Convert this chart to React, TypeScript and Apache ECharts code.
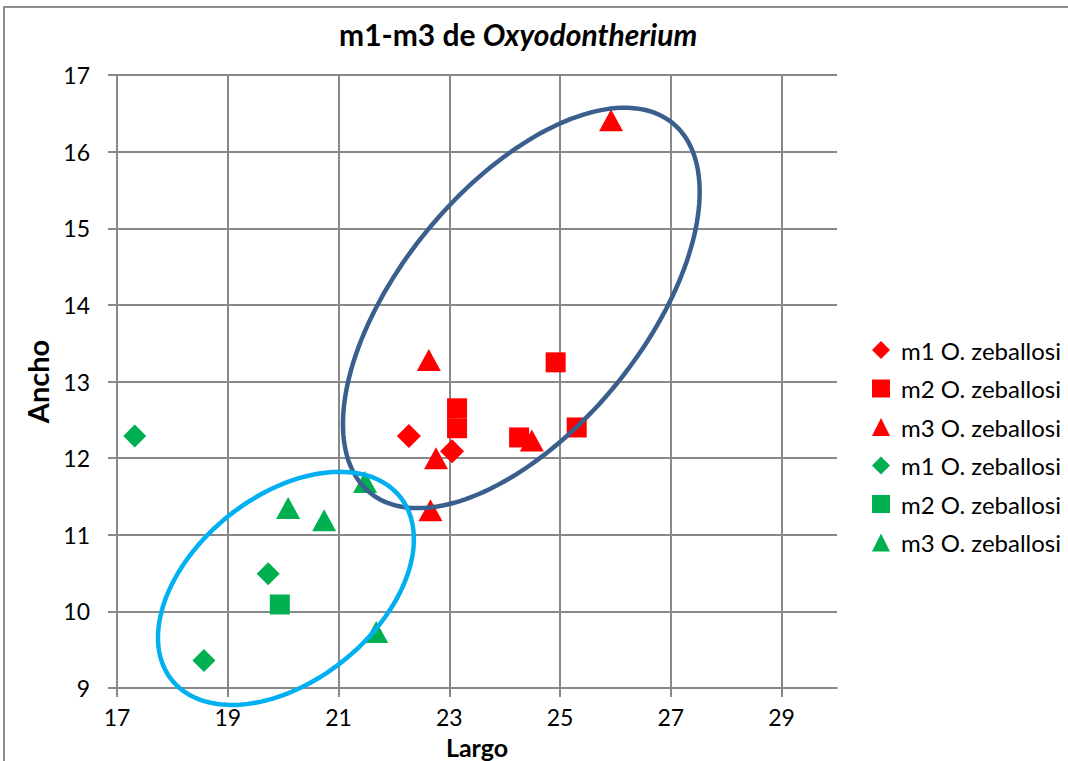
import React, { useEffect, useRef } from 'react';
import * as echarts from 'echarts';

// ---- data (Largo, Ancho) ----
const redM1: number[][] = [[22.27, 12.29], [23.05, 12.09]];
const redM2: number[][] = [[24.92, 13.25], [23.14, 12.65], [23.14, 12.39], [24.26, 12.27], [25.3, 12.4]];
const redM3: number[][] = [[25.92, 16.41], [22.63, 13.28], [22.76, 12.0], [22.66, 11.32], [24.49, 12.23]];
const greenM1: number[][] = [[17.32, 12.29], [19.73, 10.49], [18.57, 9.36]];
const greenM2: number[][] = [[19.94, 10.09]];
const greenM3: number[][] = [[20.09, 11.35], [20.74, 11.19], [21.48, 11.69], [21.68, 9.73]];

const legendLabels = ['m1 O. zeballosi', 'm2 O. zeballosi', 'm3 O. zeballosi'];

// ---- annotation ellipses in data units: centre, semi-axis vector A, semi-axis vector B ----
const darkEllipseCenter = [24.3, 13.96];
const darkEllipseA = [2.735, 2.41];
const darkEllipseB = [1.7, -1.009];
const lightEllipseCenter = [20.05, 10.3];
const lightEllipseA = [2.061, 1.195];
const lightEllipseB = [1.043, -0.941];

const xMin = 17, xMax = 30, xStep = 2;
const yMin = 9, yMax = 17, yStep = 1;

const FONT = 'Lato, "Open Sans", sans-serif';
const RED = '#FF0000';
const GREEN = '#00B050';
const GRID = '#898989';

function ellipseSeries(name: string, c: number[], a: number[], b: number[], color: string) {
  return {
    name,
    type: 'custom',
    silent: true,
    clip: false,
    z: 10,
    data: [[c[0], c[1]]],
    renderItem: (_p: any, api: any) => {
      const pts: number[][] = [];
      const n = 180;
      for (let i = 0; i < n; i++) {
        const t = (i / n) * Math.PI * 2;
        pts.push(api.coord([
          c[0] + a[0] * Math.cos(t) + b[0] * Math.sin(t),
          c[1] + a[1] * Math.cos(t) + b[1] * Math.sin(t),
        ]));
      }
      return {
        type: 'polygon',
        shape: { points: pts },
        style: { fill: 'none', stroke: color, lineWidth: 4.5 },
      };
    },
  };
}

export default function App() {
  const ref = useRef<HTMLDivElement>(null);
  useEffect(() => {
    if (!ref.current) return;
    const chart = echarts.init(ref.current, undefined, { renderer: 'svg' });
    const sc = (name: string, data: number[][], symbol: string, size: any, color: string) => ({
      name,
      type: 'scatter',
      data,
      symbol,
      symbolSize: size,
      itemStyle: { color, opacity: 1 },
      z: 3,
    });
    const names = [
      legendLabels[0] + '|r', legendLabels[1] + '|r', legendLabels[2] + '|r',
      legendLabels[0] + '|g', legendLabels[1] + '|g', legendLabels[2] + '|g',
    ];
    chart.setOption({
      animation: false,
      backgroundColor: '#fff',
      textStyle: { fontFamily: FONT },
      title: {
        text: '{a|m1-m3 de }{b|Oxyodontherium}',
        left: 334,
        top: 14,
        textStyle: {
          rich: {
            a: { fontFamily: FONT, fontSize: 30, fontWeight: 'bold', color: '#000' },
            b: { fontFamily: FONT, fontSize: 30, fontWeight: 'bold', fontStyle: 'italic', color: '#000' },
          },
        },
      },
      legend: {
        orient: 'vertical',
        left: 867,
        top: 333,
        itemWidth: 18,
        itemHeight: 18,
        itemGap: 14.5,
        data: names,
        formatter: (n: string) => n.split('|')[0],
        textStyle: { fontFamily: FONT, fontSize: 24, color: '#000', lineHeight: 24, padding: [0, 0, 0, 6] },
      },
      grid: { left: 117, right: 231, top: 75, bottom: 73, containLabel: false, outerBoundsMode: 'none' },
      xAxis: {
        type: 'value',
        min: xMin,
        max: xMax,
        interval: xStep,
        name: 'Largo',
        nameLocation: 'middle',
        nameGap: 46,
        nameMoveOverlap: false,
        nameTextStyle: { fontFamily: FONT, fontSize: 25, fontWeight: 'bold', color: '#000', lineHeight: 25 },
        axisLine: { show: true, lineStyle: { color: GRID, width: 2 } },
        axisTick: { show: true, inside: false, length: 9, lineStyle: { color: GRID, width: 2 } },
        axisLabel: { color: '#000', fontSize: 23, lineHeight: 23, fontFamily: FONT, margin: 17, showMaxLabel: false },
        splitLine: { show: true, showMaxLine: false, lineStyle: { color: GRID, width: 2 } },
      },
      yAxis: {
        type: 'value',
        min: yMin,
        max: yMax,
        interval: yStep,
        name: 'Ancho',
        nameLocation: 'middle',
        nameGap: 65,
        nameMoveOverlap: false,
        nameRotate: 90,
        nameTextStyle: { fontFamily: FONT, fontSize: 29, fontWeight: 'bold', color: '#000' },
        axisLine: { show: true, lineStyle: { color: GRID, width: 2 } },
        axisTick: { show: true, inside: false, length: 9, lineStyle: { color: GRID, width: 2 } },
        axisLabel: { color: '#000', fontSize: 23, fontFamily: FONT, margin: 27 },
        splitLine: { show: true, lineStyle: { color: GRID, width: 2 } },
      },
      graphic: [
        {
          type: 'rect',
          shape: { x: 4, y: 7, width: 1200, height: 900 },
          style: { fill: 'none', stroke: '#8c8c8c', lineWidth: 2 },
          silent: true,
          z: 100,
        },
      ],
      series: [
        sc(names[0], redM1, 'diamond', 24, RED),
        sc(names[1], redM2, 'rect', 20, RED),
        sc(names[2], redM3, 'triangle', [24, 22], RED),
        sc(names[3], greenM1, 'diamond', 23, GREEN),
        sc(names[4], greenM2, 'rect', 20, GREEN),
        sc(names[5], greenM3, 'triangle', [24, 22], GREEN),
        ellipseSeries('dark', darkEllipseCenter, darkEllipseA, darkEllipseB, '#3A5F8C'),
        ellipseSeries('light', lightEllipseCenter, lightEllipseA, lightEllipseB, '#00B0F0'),
      ],
    });
    return () => chart.dispose();
  }, []);
  return <div ref={ref} style={{ position: 'absolute', left: 0, top: 0, width: 1068, height: 761 }} />;
}
